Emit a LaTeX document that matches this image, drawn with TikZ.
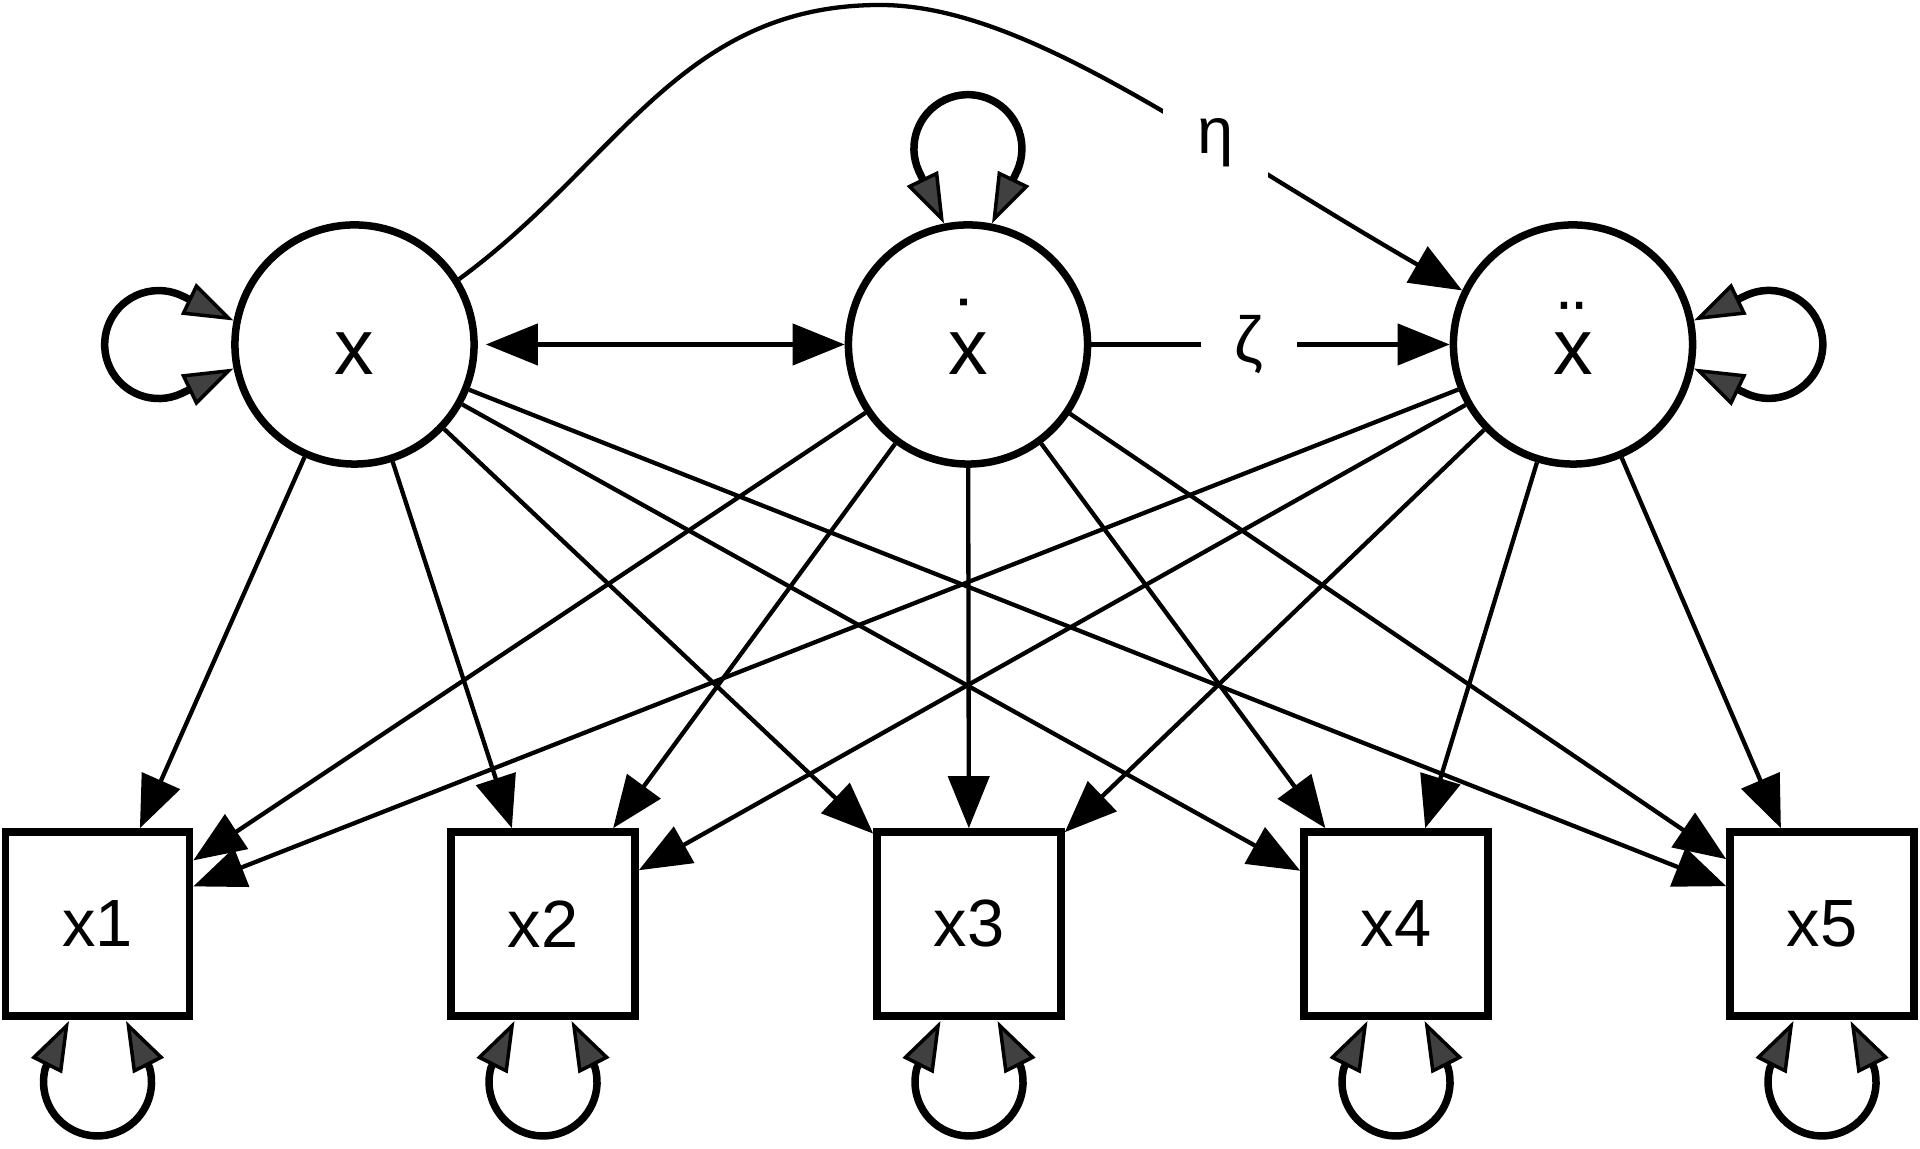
\documentclass[tikz,border=0pt]{standalone}
\usepackage{fontspec}
\setmainfont{Liberation Sans}
\usetikzlibrary{arrows.meta}
\definecolor{headgray}{RGB}{64,64,64}

\begin{document}
\begin{tikzpicture}[x=0.01cm,y=0.01cm,
  latent/.style={circle,draw,line width=0.075cm,minimum size=2.39cm,inner sep=0pt,
    text height=0.61cm,text depth=0pt,font=\fontsize{22.5}{27}\selectfont},
  manifest/.style={rectangle,draw,line width=0.075cm,minimum size=1.84cm,inner sep=0pt,
    font=\fontsize{19}{23}\selectfont},
  load/.style={line width=0.043cm,-{Triangle[length=0.52cm,width=0.41cm]}},
  cov/.style={line width=0.043cm,{Triangle[length=0.52cm,width=0.41cm]}-{Triangle[length=0.52cm,width=0.41cm]}},
  varloop/.style={line width=0.075cm,line join=round,
    {Triangle[length=0.5cm,width=0.34cm,fill=headgray,line width=0.035cm]}-{Triangle[length=0.5cm,width=0.34cm,fill=headgray,line width=0.035cm]}},
  coef/.style={fill=white,inner xsep=0.34cm,inner ysep=0.1cm,font=\fontsize{18.5}{22}\selectfont}]
\useasboundingbox (0,0) rectangle (1920,1149);

% latent variables
\node[latent] (x) at (354.5,804.5) {x};
\node[latent] (xd) at (968,804.5) {\ooalign{x\cr\hidewidth\raisebox{0.24em}{˙}\hidewidth\cr}};
\node[latent] (xdd) at (1573,804.5) {\ooalign{x\cr\hidewidth\raisebox{0.24em}{¨}\hidewidth\cr}};

% indicators
\node[manifest] (x1) at (97.5,225) {x1};
\node[manifest] (x2) at (543,225) {x2};
\node[manifest] (x3) at (969,225) {x3};
\node[manifest] (x4) at (1396,225) {x4};
\node[manifest] (x5) at (1822,225) {x5};

% loadings
\foreach \c in {x,xd,xdd}
  \foreach \i in {1,...,5}
    \draw[load] (\c) -- (x\i);

\draw[cov,shorten <=0.08cm] (x) -- (xd);
\draw[load] (xd) -- node[coef,pos=0.44] {ζ} (xdd);
\draw[load] (x.32) .. controls (618,986) and (680,1144) .. (880,1144)
  .. controls (1025,1144) and (1198,1011) .. node[coef,pos=0.65] {η} (xdd.154);

% variances
\draw[varloop,shift={(xd.center)}] (-24,121) -- (-49,173) arc[start angle=205,end angle=-25,radius=54] -- (24,121);
\draw[varloop,shift={(x.center)},rotate=90] (-24,121) -- (-49,173) arc[start angle=205,end angle=-25,radius=54] -- (24,121);
\draw[varloop,shift={(xdd.center)},rotate=-90] (-24,121) -- (-49,173) arc[start angle=205,end angle=-25,radius=54] -- (24,121);
\foreach \i in {1,...,5}
  \draw[varloop,shift={(x\i.center)},rotate=180] (-28.5,97) -- (-52.2,144) arc[start angle=195,end angle=-15,radius=54] -- (28.5,97);
\end{tikzpicture}
\end{document}
